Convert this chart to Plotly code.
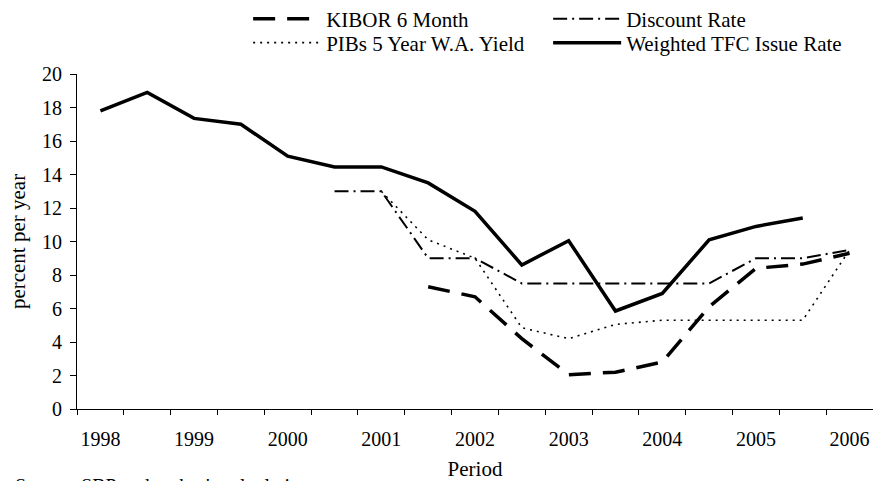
import plotly.graph_objects as go

periods = ["1998H1", "1998H2", "1999H1", "1999H2", "2000H1", "2000H2", "2001H1", "2001H2",
           "2002H1", "2002H2", "2003H1", "2003H2", "2004H1", "2004H2", "2005H1", "2005H2", "2006H1"]
year_labels = ["1998", "1999", "2000", "2001", "2002", "2003", "2004", "2005", "2006"]

kibor = [None, None, None, None, None, None, None, 7.3, 6.7, 4.2, 2.05, 2.2, 2.8, 6.1, 8.4, 8.65, 9.3]
discount = [None, None, None, None, None, 13.0, 13.0, 9.0, 9.0, 7.5, 7.5, 7.5, 7.5, 7.5, 9.0, 9.0, 9.5]
pibs = [None, None, None, None, None, None, 13.0, 10.1, 9.0, 4.85, 4.2, 5.05, 5.3, 5.3, 5.3, 5.3, 9.5]
tfc = [17.8, 18.9, 17.35, 17.0, 15.1, 14.45, 14.45, 13.5, 11.8, 8.6, 10.05, 5.85, 6.9, 10.1, 10.9, 11.4, None]

xpos = list(range(len(periods)))
FONT = "'Liberation Serif', 'Times New Roman', serif"

fig = go.Figure()
fig.add_trace(go.Scatter(x=xpos, y=kibor, mode="lines", name="KIBOR 6 Month", legend="legend",
                         line=dict(color="black", width=3.5, dash="22px,12px"),
                         customdata=periods))
fig.add_trace(go.Scatter(x=xpos, y=discount, mode="lines", name="Discount Rate", legend="legend",
                         line=dict(color="black", width=2, dash="14px,5px,2px,5px"),
                         customdata=periods))
fig.add_trace(go.Scatter(x=xpos, y=pibs, mode="lines", name="PIBs 5 Year W.A. Yield", legend="legend2",
                         line=dict(color="black", width=1.6, dash="2px,5px"),
                         customdata=periods))
fig.add_trace(go.Scatter(x=xpos, y=tfc, mode="lines", name="Weighted TFC Issue Rate", legend="legend2",
                         line=dict(color="black", width=3.5),
                         customdata=periods))

legend_common = dict(orientation="h", x=0.215, xanchor="left", yanchor="middle",
                     entrywidth=217, font=dict(family=FONT, size=21, color="black"),
                     itemwidth=68, bgcolor="rgba(0,0,0,0)")

fig.update_layout(
    width=873, height=481,
    margin=dict(l=77, r=0, t=74, b=72, autoexpand=False),
    paper_bgcolor="white", plot_bgcolor="white",
    font=dict(family=FONT, size=20, color="black"),
    legend=dict(y=1.164, **legend_common),
    legend2=dict(y=1.0925, **legend_common),
    showlegend=True,
)
fig.update_xaxes(
    range=[-0.5, len(periods) - 0.5],
    automargin=False,
    tickmode="array",
    tickvals=xpos[::2],
    ticktext=year_labels,
    ticks="",
    ticklabelstandoff=12,
    showgrid=False, zeroline=False,
    showline=True, linecolor="black", linewidth=1,
    tickfont=dict(family=FONT, size=20, color="black"),
    minor=dict(tickvals=[i - 0.5 for i in range(len(periods) + 1)], ticks="outside",
               ticklen=5, tickcolor="black", tickwidth=1, showgrid=False),
    title=dict(text="Period", font=dict(family=FONT, size=21, color="black"), standoff=15),
)
fig.update_yaxes(
    range=[0, 20], dtick=2, tick0=0,
    automargin=False,
    ticks="outside", ticklen=6, tickcolor="black",
    ticklabelstandoff=4,
    showgrid=False, zeroline=False,
    showline=True, linecolor="black", linewidth=1,
    tickfont=dict(family=FONT, size=20, color="black"),
    title=dict(text="percent per year", font=dict(family=FONT, size=21, color="black"), standoff=10),
)
fig.add_annotation(text="Source: SBP and author's calculations", xref="paper", yref="paper",
                   x=-0.0804, y=-0.19, xanchor="left", yanchor="top", showarrow=False,
                   font=dict(family=FONT, size=20, color="black"))

fig.write_html("out.html", config={"displayModeBar": False},
               post_script="document.body.style.margin='0';document.body.style.padding='0';")
